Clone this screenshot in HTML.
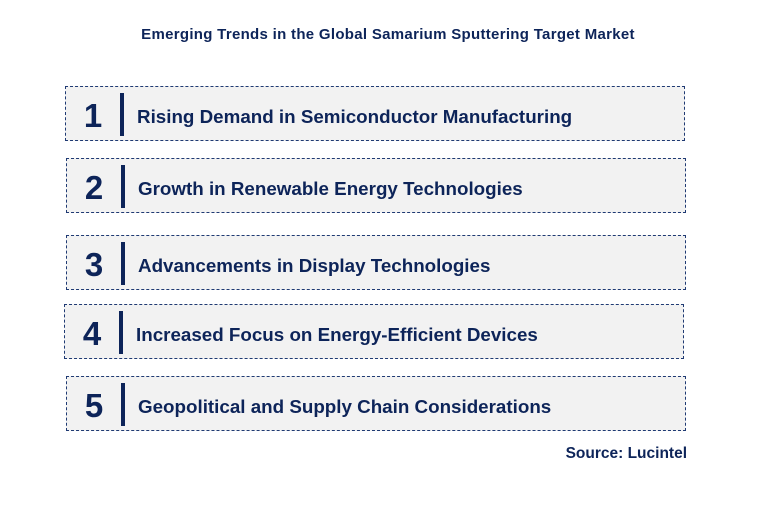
<!DOCTYPE html>
<html><head><style>
body{margin:0;width:776px;height:507px;background:#fff;font-family:"Liberation Sans",sans-serif;position:relative;overflow:hidden}
.t{position:absolute;top:26px;left:0;width:776px;text-align:center;font-weight:bold;font-size:15px;letter-spacing:0.3px;color:#0d2459}
.b{position:absolute;width:618px;height:53px;border:1px dashed #1f3a73;background:#f2f2f2}
.n{position:absolute;left:0;width:54px;top:2px;line-height:53px;text-align:center;font-weight:bold;font-size:33px;color:#0d2459}
.bar{position:absolute;left:54px;top:6px;width:4px;height:43px;background:#0d2459}
.x{position:absolute;left:71px;top:3px;line-height:53px;font-weight:bold;font-size:18.8px;color:#0d2459;letter-spacing:0}
.s{position:absolute;right:89px;top:445px;font-weight:bold;font-size:15.5px;color:#0d2459}
</style></head><body>
<div class="t">Emerging Trends in the Global Samarium Sputtering Target Market</div>
<div class="b" style="left:65px;top:86px"><div class="n">1</div><div class="bar"></div><div class="x">Rising Demand in Semiconductor Manufacturing</div></div>
<div class="b" style="left:66px;top:158px"><div class="n">2</div><div class="bar"></div><div class="x">Growth in Renewable Energy Technologies</div></div>
<div class="b" style="left:66px;top:235px"><div class="n">3</div><div class="bar"></div><div class="x">Advancements in Display Technologies</div></div>
<div class="b" style="left:64px;top:304px"><div class="n">4</div><div class="bar"></div><div class="x">Increased Focus on Energy-Efficient Devices</div></div>
<div class="b" style="left:66px;top:376px"><div class="n">5</div><div class="bar"></div><div class="x">Geopolitical and Supply Chain Considerations</div></div>
<div class="s">Source: Lucintel</div>
</body></html>
